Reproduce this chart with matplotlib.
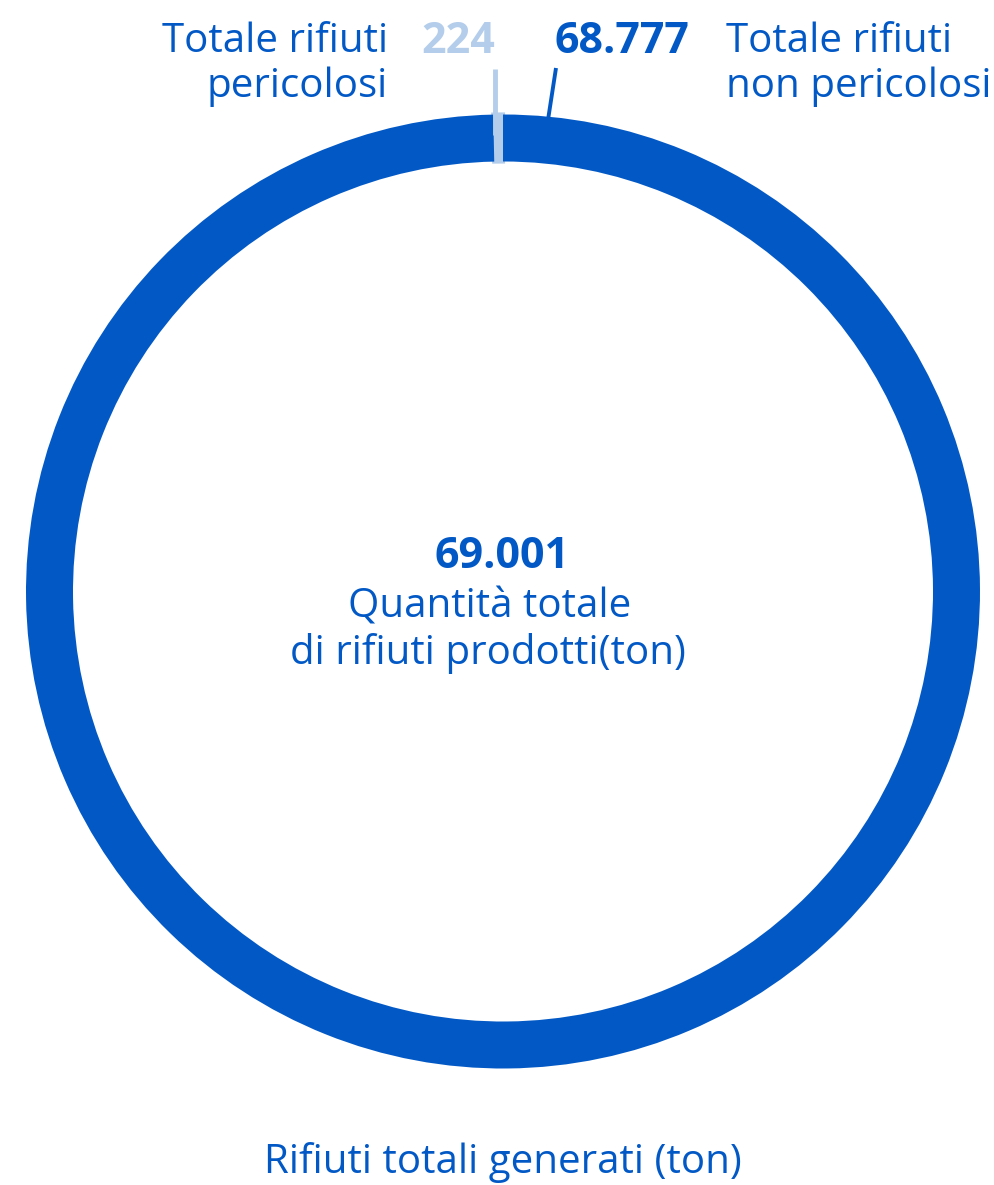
import numpy as np
import matplotlib.pyplot as plt

# data
labels = ['Totale rifiuti\npericolosi', 'Totale rifiuti\nnon pericolosi']
values = [224, 68777]
value_text = ['224', '68.777']
total_text = '69.001'
colors = ['#B3CDEB', '#0259C6']
dark = '#0259C6'

W, H = 994, 1185
plt.rcParams['font.family'] = ['Open Sans', 'DejaVu Sans']

fig = plt.figure(figsize=(W / 100, H / 100), dpi=100)
ax = fig.add_axes([0, 0, 1, 1])

# work in pixel coordinates, y measured from the top
def py(y):
    return H - y

cx, cy, r_out, ring = 503, 591.5, 477, 47

wedges, _ = ax.pie(values, colors=colors, startangle=90, counterclock=True,
                   center=(cx, py(cy)), radius=r_out,
                   wedgeprops=dict(width=ring, linewidth=0))
# the small slice is drawn a bit thicker, as in the original
wedges[0].set_edgecolor(colors[0])
wedges[0].set_linewidth(3.0)
wedges[0].set_joinstyle('miter')

# leader line for the small slice (from the wedge middle, straight up)
mid0 = np.deg2rad((wedges[0].theta1 + wedges[0].theta2) / 2)
x0 = cx + r_out * np.cos(mid0) - 3
ax.plot([x0, x0], [py(cy) + r_out * np.sin(mid0) - 20, py(69)],
        color=colors[0], lw=3.5, solid_capstyle='butt')

# leader line for the large slice (from near the top of the ring)
a1 = np.deg2rad(84.6)
x1 = cx + r_out * np.cos(a1)
y1 = py(cy) + r_out * np.sin(a1) - 4
ax.plot([x1, 556], [y1, py(68)], color=dark, lw=2.8, solid_capstyle='butt')

fs = 29
fsb = 31
# left label
l0 = labels[0].split('\n')
ax.text(388, py(52), l0[0], ha='right', va='baseline', fontsize=fs, color=dark)
ax.text(388, py(97), l0[1], ha='right', va='baseline', fontsize=fs, color=dark)
ax.text(495, py(53), value_text[0], ha='right', va='baseline', fontsize=fsb,
        fontweight='bold', color=colors[0])

# right label
l1 = labels[1].split('\n')
ax.text(555, py(53), value_text[1], ha='left', va='baseline', fontsize=fsb,
        fontweight='bold', color=dark)
ax.text(726, py(52), l1[0], ha='left', va='baseline', fontsize=fs, color=dark)
ax.text(726, py(97), l1[1], ha='left', va='baseline', fontsize=fs, color=dark)

# centre
ax.text(502, py(568), total_text, ha='center', va='baseline', fontsize=fsb,
        fontweight='bold', color=dark)
ax.text(490, py(618), 'Quantità totale', ha='center', va='baseline',
        fontsize=fs, color=dark)
ax.text(488, py(664), 'di rifiuti prodotti(ton)', ha='center', va='baseline',
        fontsize=fs, color=dark)

# bottom title
ax.text(503, py(1173), 'Rifiuti totali generati (ton)', ha='center',
        va='baseline', fontsize=fs, color=dark)

ax.set_xlim(0, W)
ax.set_ylim(0, H)
ax.set_aspect('equal')
ax.axis('off')

fig.savefig('out.png', dpi=100)
